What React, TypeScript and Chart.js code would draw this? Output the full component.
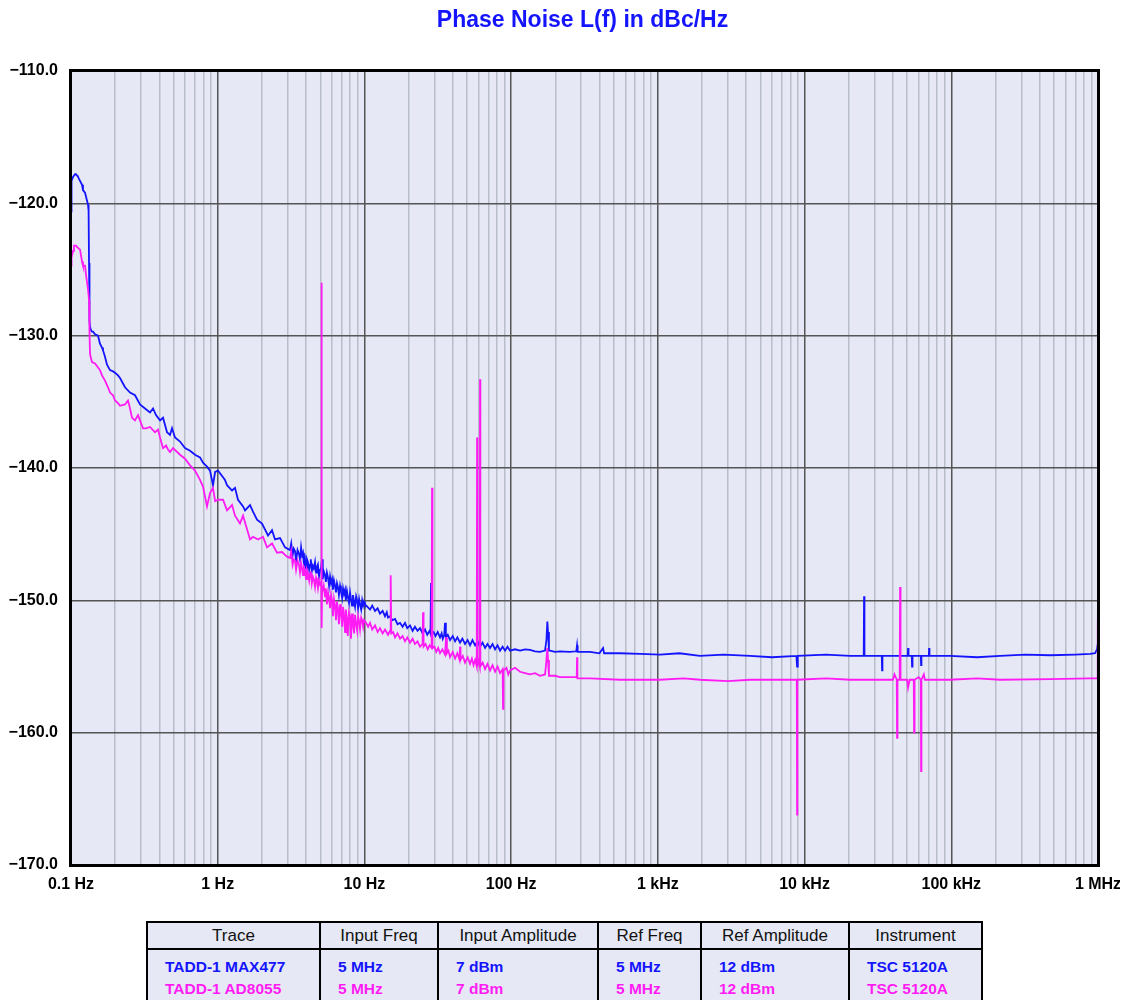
import React, { useEffect, useRef } from 'react';
import { Chart, registerables } from 'chart.js';

Chart.register(...registerables);

// ---------- data (frequency in Hz, phase noise in dBc/Hz) ----------
const traceNames = ['TADD-1 MAX477', 'TADD-1 AD8055'];
const traceColors = ['#1414ff', '#ff1cf4'];

const max477: [number, number][] = [
  [0.1, -120.6], [0.1008, -118.3], [0.1032, -118.0], [0.1065, -117.8], [0.1082, -117.8], [0.1099, -117.9],
  [0.1116, -118.0], [0.1152, -118.3], [0.1189, -118.6], [0.1207, -119.0], [0.1246, -119.2], [0.1266, -119.5],
  [0.1306, -120.1], [0.1318, -120.6], [0.1327, -124.5], [0.1337, -128.9], [0.1348, -129.3], [0.1369, -129.6],
  [0.1391, -129.7], [0.1413, -129.7], [0.1458, -129.9], [0.1528, -130.0], [0.1576, -130.6], [0.1627, -130.9],
  [0.1652, -131.1], [0.1705, -131.6], [0.176, -132.2], [0.1845, -132.6], [0.1933, -132.7], [0.1995, -132.8],
  [0.2091, -133.0], [0.2158, -133.2], [0.2334, -133.9], [0.2525, -134.3], [0.2732, -134.5], [0.2953, -135.2],
  [0.3195, -135.5], [0.3455, -135.8], [0.3622, -135.5], [0.3797, -136.0], [0.4044, -136.4], [0.4238, -136.2],
  [0.4513, -137.3], [0.473, -137.5], [0.4882, -137.0], [0.5117, -137.7], [0.5534, -138.0], [0.5985, -138.5],
  [0.6475, -138.7], [0.7003, -139.0], [0.7573, -139.2], [0.7939, -139.6], [0.8453, -139.9], [0.8861, -140.2],
  [0.929, -141.3], [0.96, -140.3], [1.005, -140.2], [1.087, -140.7], [1.121, -140.9], [1.157, -141.3],
  [1.252, -141.7], [1.312, -141.5], [1.375, -142.4], [1.488, -142.9], [1.536, -143.2], [1.661, -142.8],
  [1.74, -143.3], [1.853, -143.9], [2.004, -144.2], [2.203, -145.1], [2.345, -144.7], [2.458, -145.4],
  [2.659, -145.3], [2.876, -146.0], [3.111, -146.2], [3.17, -145.7], [3.24, -146.6], [3.3, -146.1],
  [3.365, -146.3], [3.42, -147.0], [3.5, -146.2], [3.58, -146.5], [3.639, -146.9], [3.7, -146.0],
  [3.76, -146.6], [3.814, -146.4], [3.87, -147.3], [3.936, -146.9], [4.0, -147.6], [4.06, -146.9],
  [4.12, -147.1], [4.2, -147.7], [4.257, -147.3], [4.31, -146.9], [4.38, -147.8], [4.45, -147.4],
  [4.52, -147.6], [4.605, -147.1], [4.68, -147.9], [4.75, -147.5], [4.82, -147.3], [4.9, -148.2],
  [4.981, -147.7], [5.06, -147.6], [5.14, -146.9], [5.2, -148.4], [5.28, -147.8], [5.387, -148.1],
  [5.46, -148.6], [5.55, -147.9], [5.65, -148.3], [5.74, -148.9], [5.828, -148.2], [5.92, -148.7],
  [6.02, -148.4], [6.1, -149.2], [6.2, -148.5], [6.304, -148.9], [6.4, -149.4], [6.5, -148.7],
  [6.6, -149.0], [6.7, -149.6], [6.819, -148.9], [6.92, -149.3], [7.05, -149.8], [7.15, -149.1],
  [7.26, -149.5], [7.376, -149.2], [7.47, -150.0], [7.6, -149.3], [7.7, -149.7], [7.85, -150.2],
  [7.978, -149.4], [8.1, -149.9], [8.233, -150.4], [8.35, -149.6], [8.5, -150.1], [8.63, -150.5],
  [8.78, -149.7], [8.92, -150.0], [9.05, -150.6], [9.2, -149.9], [9.333, -150.3], [9.5, -150.7],
  [9.65, -150.0], [9.8, -150.4], [9.938, -150.1], [10.09, -150.3], [10.5, -150.5], [10.92, -150.7],
  [11.3, -150.4], [11.81, -150.8], [12.3, -150.6], [12.77, -151.0], [13.3, -150.8], [13.81, -151.2],
  [14.2, -150.9], [14.48, -151.3], [14.94, -151.2], [15.5, -151.5], [16.17, -151.4], [16.8, -151.8],
  [17.49, -151.7], [18.2, -152.0], [18.9, -151.7], [19.6, -152.1], [20.46, -151.9], [21.3, -152.3],
  [22.1, -152.0], [23, -152.3], [23.93, -152.1], [24.9, -152.5], [25.89, -152.2], [26.8, -152.6],
  [27.8, -152.3], [28.2, -152.5], [28.44, -148.7], [28.7, -152.5], [29.6, -152.4], [30.5, -152.7],
  [31.6, -152.4], [32.76, -152.8], [33.6, -152.5], [34.2, -152.9], [35.0, -152.6], [35.43, -151.7],
  [35.9, -152.8], [37, -152.6], [38.33, -153.0], [40, -152.7], [41.5, -153.1], [43, -152.8],
  [44.85, -153.2], [46.5, -152.9], [48.5, -153.3], [50.5, -153.0], [52.46, -153.4], [54.5, -153.0],
  [56.8, -153.4], [59, -153.1], [61.38, -153.5], [63.8, -153.2], [66.4, -153.6], [69, -153.3],
  [71.81, -153.6], [74.7, -153.3], [77.7, -153.7], [80.8, -153.4], [84.02, -153.8], [87.4, -153.5],
  [90.9, -153.8], [94.5, -153.5], [98.29, -153.8], [106.3, -153.7], [115, -153.8], [124.4, -153.7],
  [134.5, -153.75], [145.5, -153.85], [157.4, -153.9], [170.2, -153.8], [174, -153.0], [176.5, -151.6],
  [178.4, -152.4], [181, -153.8], [184.2, -153.8], [199, -153.9], [215.4, -153.85], [250, -153.9],
  [278, -153.85], [281.3, -153.4], [284, -153.9], [345, -153.9], [400, -154.0], [423.1, -153.6],
  [430, -154.0], [552.5, -154.0], [756, -154.05], [1035, -154.1], [1400, -154.0], [1940, -154.2],
  [2800, -154.1], [4251, -154.2], [6000, -154.3], [8800, -154.2], [8892, -155.0], [8990, -154.2],
  [14000, -154.1], [20420, -154.2], [25300, -154.2], [25440, -149.7], [25600, -154.2], [33600, -154.2],
  [33760, -155.3], [33950, -154.2], [44770, -154.2], [50500, -154.2], [50760, -153.6], [51100, -154.2],
  [53800, -154.2], [54050, -155.0], [54400, -154.2], [62000, -154.2], [62270, -154.9], [62600, -154.2],
  [70300, -154.2], [70600, -153.6], [71000, -154.2], [98130, -154.2], [150000, -154.3], [215100, -154.2],
  [320000, -154.1], [471600, -154.15], [700000, -154.1], [883500, -154.05], [955700, -154.0], [985000, -153.7],
  [1000000, -153.2],
];

const ad8055: [number, number][] = [
  [0.1, -124.7], [0.1008, -124.1], [0.1032, -123.6], [0.1048, -123.2], [0.1082, -123.2], [0.1099, -123.3],
  [0.1152, -123.5], [0.1189, -124.4], [0.1207, -124.7], [0.1246, -124.7], [0.1266, -125.4], [0.1306, -126.5],
  [0.1327, -127.3], [0.1337, -129.8], [0.1348, -131.4], [0.1369, -131.7], [0.1391, -132.0], [0.1458, -132.1],
  [0.1528, -132.4], [0.1576, -132.6], [0.1627, -133.0], [0.1705, -133.4], [0.1787, -133.9], [0.1845, -134.3],
  [0.1933, -134.5], [0.1995, -134.9], [0.2091, -135.1], [0.2158, -135.3], [0.2334, -135.2], [0.2447, -134.9],
  [0.2525, -135.5], [0.2605, -136.2], [0.2732, -136.4], [0.2863, -136.0], [0.2953, -136.4], [0.3096, -137.0],
  [0.3245, -137.0], [0.3455, -136.9], [0.3738, -137.3], [0.3918, -137.1], [0.4044, -137.7], [0.4238, -138.5],
  [0.4443, -138.3], [0.4584, -138.6], [0.473, -138.8], [0.4959, -138.5], [0.5534, -139.0], [0.5985, -139.3],
  [0.6475, -139.8], [0.7003, -140.2], [0.7573, -140.9], [0.7939, -141.4], [0.8453, -142.9], [0.8861, -141.9],
  [0.929, -141.5], [0.96, -142.5], [1.005, -142.4], [1.087, -142.4], [1.157, -143.2], [1.252, -142.8],
  [1.312, -143.6], [1.419, -144.2], [1.488, -143.6], [1.661, -145.4], [1.74, -145.2], [1.883, -145.4],
  [2.036, -145.2], [2.169, -146.0], [2.345, -145.7], [2.537, -146.4], [2.744, -146.35], [2.968, -146.7],
  [3.111, -146.8], [3.17, -146.3], [3.24, -147.3], [3.3, -146.9], [3.365, -147.0], [3.42, -147.7],
  [3.5, -147.0], [3.58, -147.3], [3.639, -147.9], [3.7, -147.2], [3.76, -147.6], [3.814, -148.1],
  [3.87, -147.5], [3.936, -147.7], [4.0, -148.4], [4.06, -147.7], [4.12, -147.9], [4.2, -148.5],
  [4.257, -148.0], [4.31, -147.8], [4.38, -148.7], [4.45, -148.2], [4.52, -148.4], [4.605, -149.0],
  [4.68, -148.3], [4.75, -148.6], [4.82, -149.1], [4.9, -148.5], [4.981, -148.8], [5.08, -148.6],
  [5.1, -126.0], [5.12, -152.1], [5.15, -148.9], [5.2, -149.3], [5.28, -148.9], [5.387, -149.7],
  [5.46, -149.1], [5.55, -150.3], [5.65, -149.4], [5.74, -149.8], [5.828, -150.6], [5.92, -149.6],
  [6.02, -150.1], [6.1, -151.2], [6.2, -149.9], [6.304, -150.4], [6.4, -151.5], [6.5, -150.1],
  [6.6, -150.6], [6.7, -151.8], [6.819, -150.3], [6.92, -150.9], [7.05, -152.0], [7.15, -150.5],
  [7.26, -151.1], [7.376, -152.4], [7.47, -150.7], [7.6, -151.4], [7.7, -152.7], [7.85, -150.9],
  [7.978, -151.2], [8.1, -152.9], [8.233, -151.0], [8.35, -151.7], [8.5, -152.5], [8.63, -151.1],
  [8.78, -151.8], [8.92, -152.3], [9.05, -151.2], [9.2, -151.6], [9.333, -152.2], [9.5, -151.3],
  [9.65, -151.5], [9.8, -152.0], [9.938, -151.5], [10.25, -151.7], [10.6, -152.0], [10.92, -151.7],
  [11.3, -152.2], [11.81, -151.9], [12.3, -152.4], [12.77, -152.1], [13.3, -152.5], [13.81, -152.2],
  [14.48, -152.6], [14.94, -152.3], [15.1, -148.1], [15.25, -152.5], [15.7, -152.4], [16.17, -152.8],
  [16.8, -152.5], [17.49, -152.9], [18.2, -152.7], [18.9, -153.1], [19.6, -152.8], [20.46, -153.2],
  [21.3, -152.9], [22.1, -153.3], [23, -153.1], [23.93, -153.5], [24.9, -153.3], [25.09, -150.9],
  [25.3, -153.5], [26.1, -153.3], [27, -153.7], [27.8, -153.4], [28.7, -153.6], [28.89, -141.5],
  [29.1, -153.6], [30, -153.5], [30.9, -153.9], [31.8, -153.6], [32.76, -154.0], [34, -153.7],
  [35.43, -154.1], [35.99, -152.8], [36.5, -154.0], [37.4, -153.8], [38.33, -154.3], [40, -153.9],
  [41.5, -154.4], [43, -154.0], [44.5, -154.5], [44.85, -153.5], [45.2, -154.5], [46.8, -154.2],
  [48.5, -154.7], [50.5, -154.3], [52.46, -154.8], [54, -154.4], [55.4, -154.9], [56.8, -154.5],
  [58.3, -155.0], [58.56, -137.7], [58.9, -154.9], [60, -154.6], [61.1, -155.0], [61.38, -133.3],
  [61.7, -155.0], [64, -154.7], [66.4, -155.2], [69, -154.8], [71.81, -155.3], [74.7, -154.9],
  [77.7, -155.4], [80.8, -155.0], [84.02, -155.5], [87.5, -155.2], [88.07, -158.2], [88.6, -155.3],
  [93, -155.1], [95.6, -155.6], [98.29, -155.3], [106.3, -155.1], [115, -155.4], [124.4, -155.5],
  [134.5, -155.6], [145.5, -155.5], [157.4, -155.7], [170.2, -155.6], [172.9, -154.9], [176.5, -153.6],
  [178.4, -154.5], [181, -155.7], [199, -155.7], [215.4, -155.8], [250, -155.8], [280, -155.8],
  [281.3, -154.3], [283, -155.9], [345, -155.9], [552.5, -156.0], [1035, -156.0], [1500, -155.9],
  [1940, -156.0], [3000, -156.1], [4251, -156.0], [8850, -156.0], [8892, -166.2], [8940, -156.0],
  [14000, -155.9], [20420, -156.0], [40000, -156.0], [41000, -155.6], [42500, -156.0], [42710, -160.4],
  [43000, -156.0], [44500, -156.0], [44770, -149.0], [45100, -156.0], [50000, -156.0], [50760, -156.6],
  [52000, -156.0], [55500, -156.0], [55770, -160.0], [56200, -156.0], [60000, -155.8], [62000, -156.0],
  [62270, -162.9], [62600, -156.0], [65000, -155.6], [66000, -156.0], [98130, -156.0], [150000, -155.9],
  [215100, -156.0], [471600, -155.95], [883500, -155.9], [990000, -155.9], [996000, -152.0], [1000000, -150.0],
];

const xDecadeLabels = ['0.1 Hz', '1 Hz', '10 Hz', '100 Hz', '1 kHz', '10 kHz', '100 kHz', '1 MHz'];
const xMin = 0.1;
const xMax = 1e6;
const yMin = -170;
const yMax = -110;
const yStep = 10;

const tableHeaders = ['Trace', 'Input Freq', 'Input Amplitude', 'Ref Freq', 'Ref Amplitude', 'Instrument'];
const inputFreqs = ['5 MHz', '5 MHz'];
const inputAmps = ['7 dBm', '7 dBm'];
const refFreqs = ['5 MHz', '5 MHz'];
const refAmps = ['12 dBm', '12 dBm'];
const instruments = ['TSC 5120A', 'TSC 5120A'];

const titleText = 'Phase Noise L(f) in dBc/Hz';

// ---------- styling ----------
const BG = '#e6e9f5';
const MAJOR = '#555555';
const MINOR = '#b8bdca';
const FONT = "'Liberation Sans', Arial, Helvetica, sans-serif";
const colWidths = [173, 118, 160, 103, 148, 133];

function isDecade(v: number) {
  const l = Math.log10(v);
  return Math.abs(l - Math.round(l)) < 1e-6;
}

const chromePlugin = {
  id: 'chrome',
  beforeDraw(chart: any) {
    const { ctx, chartArea: a } = chart;
    ctx.save();
    ctx.fillStyle = BG;
    ctx.fillRect(a.left, a.top, a.right - a.left, a.bottom - a.top);
    ctx.restore();
  },
  afterDraw(chart: any) {
    const { ctx, chartArea: a } = chart;
    ctx.save();
    ctx.strokeStyle = '#000';
    ctx.lineWidth = 3;
    ctx.strokeRect(a.left - 0.5, a.top - 0.5, a.right - a.left + 1, a.bottom - a.top + 1);
    ctx.fillStyle = '#1414ff';
    ctx.font = `bold 23px ${FONT}`;
    ctx.textAlign = 'center';
    ctx.textBaseline = 'alphabetic';
    ctx.fillText(titleText, (a.left + a.right) / 2 - 2, 19);
    ctx.restore();
  },
};

export default function App() {
  const ref = useRef<HTMLCanvasElement | null>(null);

  useEffect(() => {
    if (!ref.current) return;
    const decadeTicks: number[] = [];
    for (let e = -1; e < 6; e++) {
      for (let m = 1; m <= 9; m++) decadeTicks.push(m * Math.pow(10, e));
    }
    decadeTicks.push(xMax);

    const chart = new Chart(ref.current, {
      type: 'line',
      data: {
        datasets: [
          {
            label: traceNames[0],
            data: max477.map(([x, y]) => ({ x, y })),
            borderColor: traceColors[0],
            borderWidth: 1.8,
            pointRadius: 0,
            tension: 0,
            order: 1,
          },
          {
            label: traceNames[1],
            data: ad8055.map(([x, y]) => ({ x, y })),
            borderColor: traceColors[1],
            borderWidth: 1.8,
            pointRadius: 0,
            tension: 0,
            order: 0,
          },
        ],
      },
      options: {
        animation: false,
        responsive: false,
        layout: { padding: { top: 63, right: 22, bottom: 0, left: 0 } },
        plugins: {
          legend: { display: false },
          title: { display: false },
          tooltip: { enabled: false },
        },
        scales: {
          x: {
            type: 'logarithmic',
            min: xMin,
            max: xMax,
            afterBuildTicks: (scale: any) => {
              scale.ticks = decadeTicks.map((v) => ({ value: v }));
            },
            afterFit: (scale: any) => {
              scale.height = 43;
              scale.paddingLeft = 0;
              scale.paddingRight = 0;
            },
            border: { display: false },
            grid: {
              drawTicks: false,
              color: (ctx: any) => (ctx.tick && isDecade(ctx.tick.value) ? MAJOR : MINOR),
              lineWidth: 1.5,
            },
            ticks: {
              autoSkip: false,
              maxRotation: 0,
              minRotation: 0,
              padding: 10,
              color: '#000',
              font: { family: FONT, size: 16, weight: 'bold' },
              callback: (v: any) => {
                const val = Number(v);
                if (!isDecade(val)) return '';
                const idx = Math.round(Math.log10(val)) + 1;
                return xDecadeLabels[idx] ?? '';
              },
            },
          },
          y: {
            type: 'linear',
            min: yMin,
            max: yMax,
            afterFit: (scale: any) => {
              scale.width = 63;
              scale.paddingTop = 0;
              scale.paddingBottom = 0;
            },
            border: { display: false },
            grid: { drawTicks: false, color: MAJOR, lineWidth: 1.5 },
            ticks: {
              stepSize: yStep,
              padding: 13,
              color: '#000',
              font: { family: FONT, size: 16, weight: 'bold' },
              callback: (v: any) => '\u2212' + Math.abs(Number(v)).toFixed(1),
            },
          },
        },
      },
      plugins: [chromePlugin],
    } as any);
    return () => chart.destroy();
  }, []);

  const cellBase: React.CSSProperties = {
    border: '2px solid #000',
    padding: 0,
  };

  const bodyCols = [traceNames, inputFreqs, inputAmps, refFreqs, refAmps, instruments];

  return (
    <div style={{ position: 'relative', width: 1112, height: 992, fontFamily: FONT }}>
      <canvas ref={ref} width={1112} height={900} style={{ display: 'block', width: 1112, height: 900 }} />
      <table
        style={{
          position: 'absolute',
          left: 138,
          top: 913,
          width: 835,
          borderCollapse: 'collapse',
          background: BG,
          border: '2px solid #000',
          tableLayout: 'fixed',
        }}
      >
        <colgroup>
          {colWidths.map((w, i) => (
            <col key={i} style={{ width: w }} />
          ))}
        </colgroup>
        <thead>
          <tr style={{ height: 27 }}>
            {tableHeaders.map((h) => (
              <th
                key={h}
                style={{ ...cellBase, fontWeight: 'normal', fontSize: 17, color: '#111', textAlign: 'center' }}
              >
                {h}
              </th>
            ))}
          </tr>
        </thead>
        <tbody>
          <tr>
            {bodyCols.map((col, ci) => (
              <td
                key={ci}
                style={{
                  ...cellBase,
                  verticalAlign: 'top',
                  paddingLeft: 17,
                  paddingTop: 6,
                  paddingBottom: 8,
                  fontWeight: 'bold',
                  fontSize: 15.5,
                  lineHeight: '22px',
                  whiteSpace: 'nowrap',
                }}
              >
                {col.map((t, ri) => (
                  <div key={ri} style={{ color: traceColors[ri] }}>
                    {t}
                  </div>
                ))}
              </td>
            ))}
          </tr>
        </tbody>
      </table>
    </div>
  );
}
